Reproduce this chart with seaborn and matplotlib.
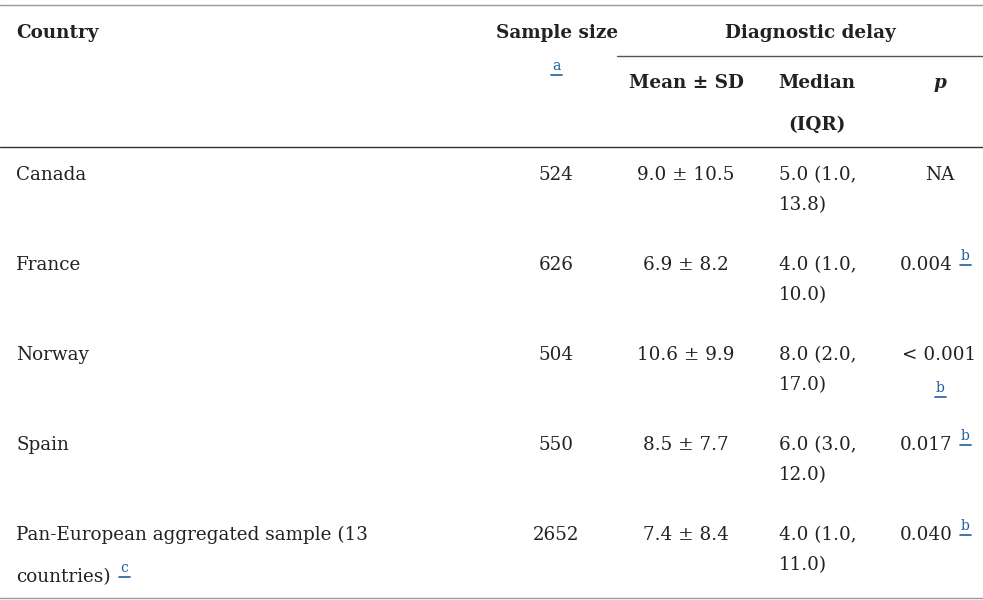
import matplotlib.pyplot as plt
import seaborn as sns

sns.set_style("white")
plt.rcParams['font.family'] = ['DejaVu Serif']

countries = [["Canada"], ["France"], ["Norway"], ["Spain"],
             ["Pan-European aggregated sample (13", "countries)"]]
country_notes = ["", "", "", "", "c"]
sample_sizes = ["524", "626", "504", "550", "2652"]
mean_sd = ["9.0 ± 10.5", "6.9 ± 8.2", "10.6 ± 9.9", "8.5 ± 7.7", "7.4 ± 8.4"]
medians = [["5.0 (1.0,", "13.8)"], ["4.0 (1.0,", "10.0)"], ["8.0 (2.0,", "17.0)"],
           ["6.0 (3.0,", "12.0)"], ["4.0 (1.0,", "11.0)"]]
p_values = ["NA", "0.004", "< 0.001", "0.017", "0.040"]
p_notes = ["", "b", "b", "b", "b"]

TXT = '#222222'
LINK = '#1f5f9e'
FS = 13.2

fig = plt.figure(figsize=(9.83, 6), dpi=100)
ax = fig.add_axes([0, 0, 1, 1])
ax.set_xlim(0, 983)
ax.set_ylim(600, 0)
ax.axis('off')


def note(x, y, s):
    ax.text(x, y, s, fontsize=10, color=LINK, ha='left', va='baseline')
    ax.plot([x - 1, x + 10], [y + 5, y + 5], color=LINK, lw=1.2)


# rules
ax.plot([0, 983], [5, 5], color='#999999', lw=1)
ax.plot([617, 983], [56, 56], color='#555555', lw=1)
ax.plot([0, 983], [147, 147], color='#333333', lw=1)
ax.plot([0, 983], [598, 598], color='#999999', lw=1)

# header
hb = dict(fontsize=FS, color=TXT, fontweight='bold', va='baseline')
ax.text(16, 38, "Country", ha='left', **hb)
ax.text(557, 38, "Sample size", ha='center', **hb)
note(552, 70, "a")
ax.text(810, 38, "Diagnostic delay", ha='center', **hb)
ax.text(686, 88, "Mean ± SD", ha='center', **hb)
ax.text(817, 88, "Median", ha='center', **hb)
ax.text(817, 130, "(IQR)", ha='center', **hb)
ax.text(940, 88, "p", ha='center', fontstyle='italic', **hb)

# body
rows_y = [180, 270, 360, 450, 540]
gap = 30
kw = dict(fontsize=FS, color=TXT, va='baseline')
for i, y in enumerate(rows_y):
    step = 42 if len(countries[i]) > 1 else gap
    for j, s in enumerate(countries[i]):
        ax.text(16, y + j * step, s, ha='left', **kw)
    if country_notes[i]:
        note(120, y + step - 10, country_notes[i])
    ax.text(556, y, sample_sizes[i], ha='center', **kw)
    ax.text(686, y, mean_sd[i], ha='center', **kw)
    ax.text(779, y, medians[i][0], ha='left', **kw)
    ax.text(779, y + gap, medians[i][1], ha='left', **kw)
    p = p_values[i]
    if p == "NA":
        ax.text(940, y, p, ha='center', **kw)
    elif p.startswith("<"):
        ax.text(902, y, p, ha='left', **kw)
        note(936, y + 32, p_notes[i])
    else:
        ax.text(900, y, p, ha='left', **kw)
        note(961, y - 10, p_notes[i])

fig.savefig("out.png", dpi=100, facecolor='white')
